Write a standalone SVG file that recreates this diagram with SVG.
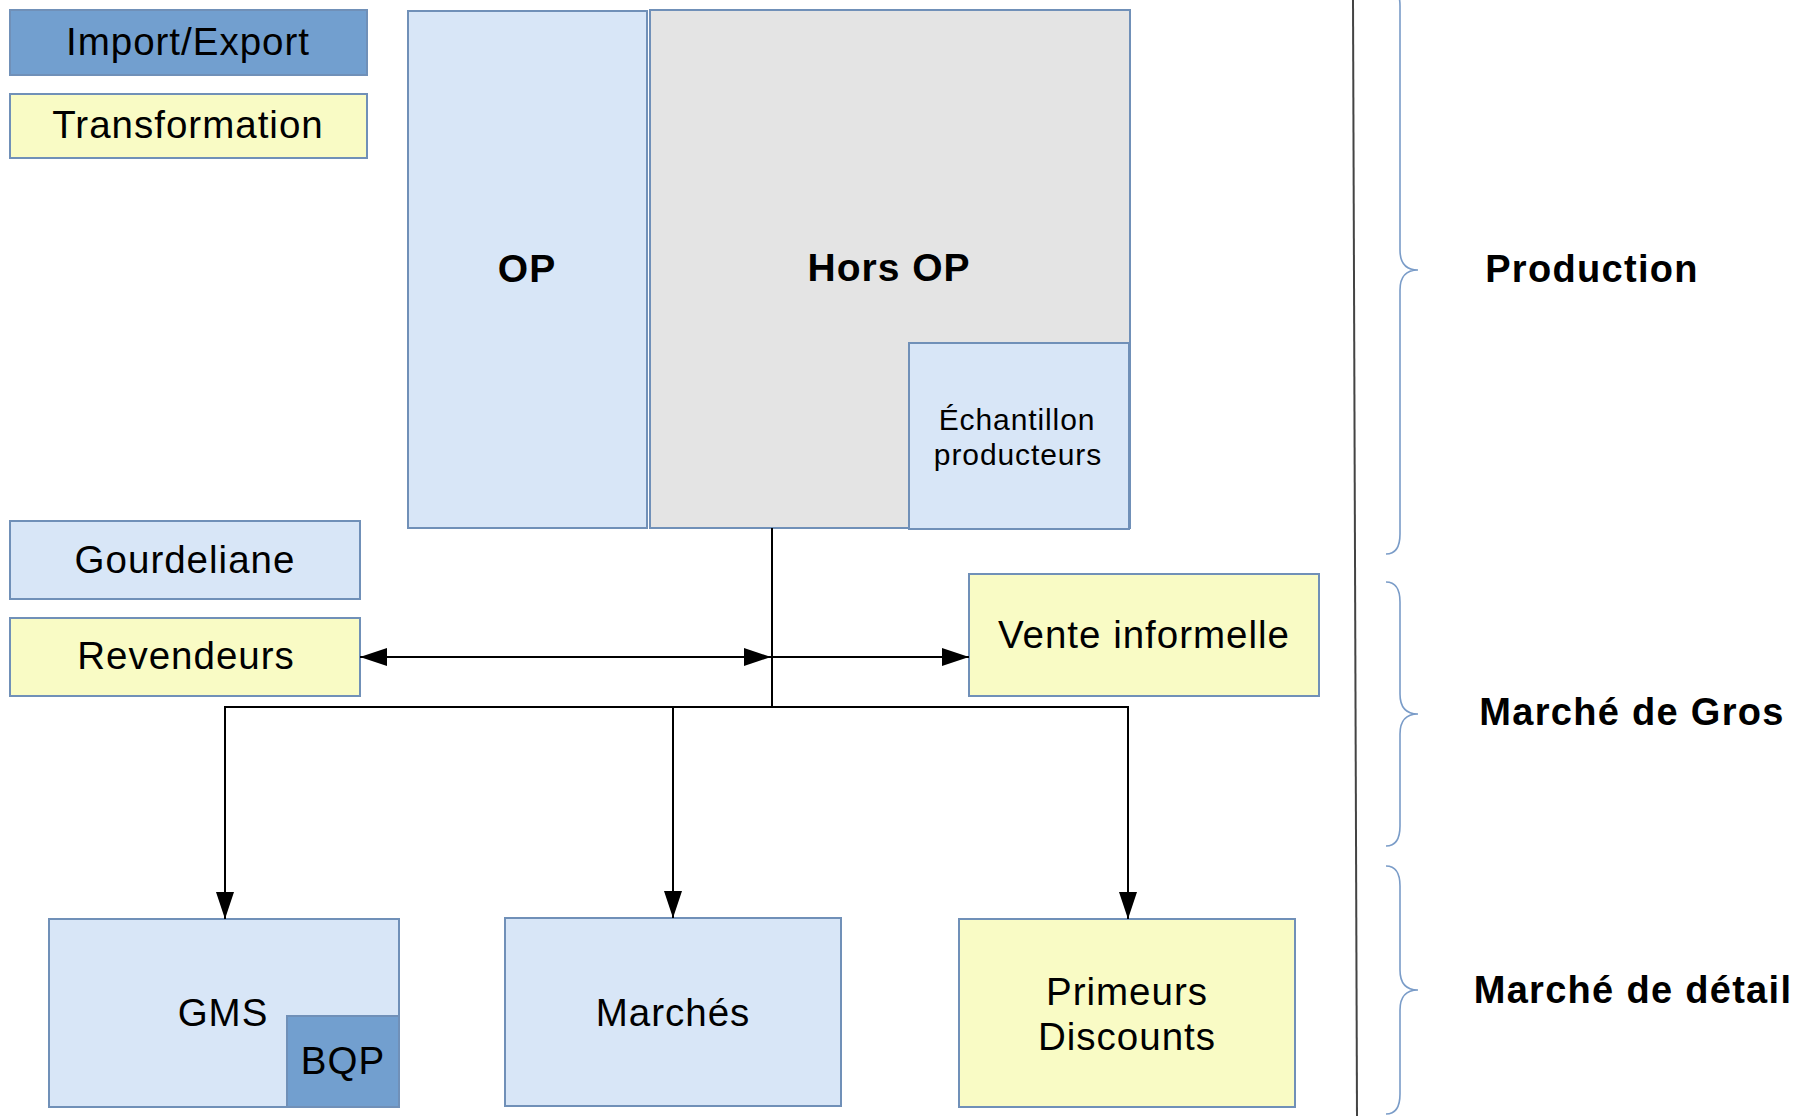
<svg xmlns="http://www.w3.org/2000/svg" width="1799" height="1116" viewBox="0 0 1799 1116">
<style>
.box{stroke:#7090b8;stroke-width:2}
.lb{fill:#d8e6f7}
.db{fill:#729fcf}
.yl{fill:#f9fbc5}
.gr{fill:#e4e4e4}
.t{font-family:"Liberation Sans",Arial,sans-serif;font-size:38.5px;letter-spacing:1px;fill:#000;text-anchor:middle}
.s{font-size:30px;letter-spacing:0.9px}
.b{font-weight:bold;font-size:39px;letter-spacing:1px}
.h{font-family:"Liberation Sans",Arial,sans-serif;font-size:38px;font-weight:bold;letter-spacing:1.3px;fill:#000;text-anchor:middle}
.c{fill:none;stroke:#000;stroke-width:2}
.br{fill:none;stroke:#7a9cc8;stroke-width:1.6}
</style>
<defs>
<marker id="ah" markerUnits="userSpaceOnUse" markerWidth="28" markerHeight="18" refX="27" refY="9" orient="auto-start-reverse">
<path d="M0,0 L27,9 L0,18 z" fill="#000"/>
</marker>
</defs>
<rect width="1799" height="1116" fill="#fff"/>

<g id="import-export"><rect class="box db" x="10" y="10" width="357" height="65"/><text class="t" x="188" y="55">Import/Export</text></g>
<g id="transformation"><rect class="box yl" x="10" y="94" width="357" height="64"/><text class="t" x="188" y="138">Transformation</text></g>
<g id="op"><rect class="box lb" x="408" y="11" width="239" height="517"/><text class="t b" x="527" y="282">OP</text></g>
<g id="hors-op"><rect class="box gr" x="650" y="10" width="480" height="518"/><text class="t b" x="889" y="281">Hors OP</text></g>
<g id="echantillon"><rect class="box lb" x="909" y="343" width="220" height="186"/><text class="t s" x="1017" y="430">Échantillon</text><text class="t s" x="1018" y="465">producteurs</text></g>
<g id="gourdeliane"><rect class="box lb" x="10" y="521" width="350" height="78"/><text class="t" x="185" y="573">Gourdeliane</text></g>
<g id="revendeurs"><rect class="box yl" x="10" y="618" width="350" height="78"/><text class="t" x="186" y="669">Revendeurs</text></g>
<g id="vente-informelle"><rect class="box yl" x="969" y="574" width="350" height="122"/><text class="t" x="1144" y="648">Vente informelle</text></g>
<g id="gms"><rect class="box lb" x="49" y="919" width="350" height="188"/><text class="t" x="223" y="1026">GMS</text></g>
<g id="bqp"><rect class="box db" x="287" y="1016" width="112" height="91"/><text class="t" x="343" y="1074">BQP</text></g>
<g id="marches"><rect class="box lb" x="505" y="918" width="336" height="188"/><text class="t" x="673" y="1026">Marchés</text></g>
<g id="primeurs"><rect class="box yl" x="959" y="919" width="336" height="188"/><text class="t" x="1127" y="1005">Primeurs</text><text class="t" x="1127" y="1050">Discounts</text></g>

<g id="connectors">
<path class="c" d="M772,528 V707"/>
<path class="c" d="M360,657 H771" marker-start="url(#ah)" marker-end="url(#ah)"/>
<path class="c" d="M772,657 H969" marker-end="url(#ah)"/>
<path class="c" d="M772,707 H225 V919" marker-end="url(#ah)"/>
<path class="c" d="M673,707 V918" marker-end="url(#ah)"/>
<path class="c" d="M772,707 H1128 V919" marker-end="url(#ah)"/>
</g>

<g id="divider"><path d="M1353,0 L1357,1116" stroke="#444" stroke-width="2" fill="none"/></g>
<g id="brace-production"><path class="br" d="M1386,-14 Q1400,-14 1400,6 V250 Q1400,270 1418,270 Q1400,270 1400,290 V534 Q1400,554 1386,554"/><text class="h" x="1592" y="282">Production</text></g>
<g id="brace-gros"><path class="br" d="M1386,582 Q1400,582 1400,602 V694 Q1400,714 1418,714 Q1400,714 1400,734 V826 Q1400,846 1386,846"/><text class="h" x="1632" y="725">Marché de Gros</text></g>
<g id="brace-detail"><path class="br" d="M1386,866 Q1400,866 1400,886 V970 Q1400,990 1418,990 Q1400,990 1400,1010 V1094 Q1400,1114 1386,1114"/><text class="h" x="1633" y="1003">Marché de détail</text></g>
</svg>
